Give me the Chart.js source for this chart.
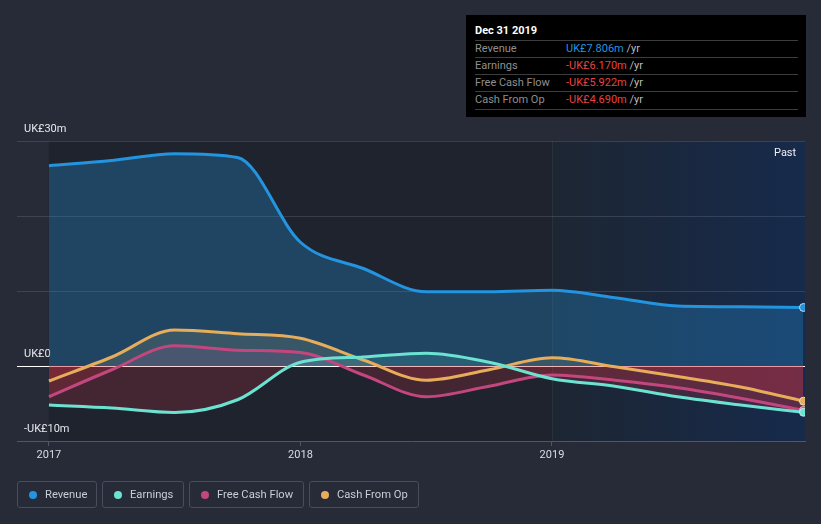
<!DOCTYPE html>
<html>
<head>
<meta charset="utf-8">
<script src="https://cdn.jsdelivr.net/npm/chart.js@4"></script>
<style>
  html, body { margin: 0; padding: 0; }
  body { width: 821px; height: 524px; background: #262b37; font-family: Roboto, "Noto Sans", sans-serif; overflow: hidden; position: relative; }
  #wrap { position: absolute; left: 0; top: 0; width: 821px; height: 524px; }
  .tip { position: absolute; left: 466px; top: 15px; width: 340px; height: 102px; background: #000; box-sizing: border-box; }
  .tip .title { position: absolute; left: 9px; top: 16px; color: #fff; font-weight: bold; font-size: 11px; line-height: 14px; transform: translateY(-50%); }
  .tip .row { position: absolute; left: 9px; right: 8px; height: 17px; border-top: 1px solid #3d3d3d; font-size: 11px; line-height: 16px; color: #8f8f8f; }
  .tip .row.last { border-bottom: 1px solid #3d3d3d; }
  .tip .row .val { position: absolute; left: 91px; top: 0; }
  .tip .row .unit { color: #bdbdbd; }
  .past { position: absolute; left: 774px; top: 146px; color: #eef0f4; font-size: 11px; line-height: 14px; }
  .legend { position: absolute; left: 17px; top: 481px; display: flex; gap: 5px; }
  .legend .item { box-sizing: border-box; height: 27px; border: 1px solid #474d5b; border-radius: 3px; display: flex; align-items: center; padding-left: 11px; color: #c9cdd5; font-size: 11.2px; }
  .legend .dot { width: 8px; height: 8px; border-radius: 50%; margin-right: 8px; }
</style>
</head>
<body>
<div id="wrap"><canvas id="chart" width="821" height="524"></canvas></div>
<div class="tip" id="tip"></div>
<div class="past">Past</div>
<div class="legend" id="legend"></div>

<script>
// DATA (values in UK£ millions, x in years)
const dates = [2017, 2017.25, 2017.5, 2017.75, 2018, 2018.25, 2018.5, 2018.75, 2019, 2019.25, 2019.5, 2019.75, 2020];
const revenue = [26.7, 27.4, 28.3, 27.8, 16.5, 13.0, 9.9, 9.9, 10.1, 9.1, 8.0, 7.9, 7.806];
const earnings = [-5.2, -5.6, -6.2, -4.5, 0.5, 1.2, 1.7, 0.5, -1.7, -2.7, -4.1, -5.2, -6.170];
const freeCashFlow = [-4.1, -0.5, 2.7, 2.1, 1.8, -1.2, -4.1, -2.7, -1.2, -1.9, -2.9, -4.3, -5.922];
const cashFromOp = [-2.0, 1.2, 4.8, 4.3, 3.7, 0.8, -1.9, -0.5, 1.1, -0.1, -1.4, -2.8, -4.690];

const seriesNames = ['Revenue', 'Earnings', 'Free Cash Flow', 'Cash From Op'];
const seriesColors = ['#2394df', '#6ce3d2', '#c4467f', '#e7ad5b'];
const xTickValues = [2017, 2018, 2019];
const yTickValues = [30, 0, -10];
const yTickLabels = ['UK£30m', 'UK£0', '-UK£10m'];
const tipTitle = 'Dec 31 2019';
const pastStart = 2019;

const allSeries = [revenue, earnings, freeCashFlow, cashFromOp];
const aboveAlpha = [0.3, 0.18, 0.16, 0.18];

function hexA(hex, a) {
  const n = parseInt(hex.slice(1), 16);
  return 'rgba(' + (n >> 16) + ',' + ((n >> 8) & 255) + ',' + (n & 255) + ',' + a + ')';
}

function fmt(v) {
  return (v < 0 ? '-' : '') + 'UK£' + Math.abs(v).toFixed(3) + 'm';
}

// TOOLTIP BOX
const tip = document.getElementById('tip');
tip.innerHTML = '<div class="title">' + tipTitle + '</div>';
seriesNames.forEach((name, i) => {
  const v = allSeries[i][allSeries[i].length - 1];
  const row = document.createElement('div');
  row.className = 'row' + (i === seriesNames.length - 1 ? ' last' : '');
  row.style.top = (25 + i * 17) + 'px';
  const col = v < 0 ? '#e8423f' : seriesColors[0];
  row.innerHTML = name + '<span class="val"><span style="color:' + col + '">' + fmt(v) + '</span> <span class="unit">/yr</span></span>';
  tip.appendChild(row);
});

// LEGEND
const legendWidths = [80, 82, 115, 110];
const legend = document.getElementById('legend');
seriesNames.forEach((name, i) => {
  const item = document.createElement('div');
  item.className = 'item';
  item.style.width = legendWidths[i] + 'px';
  item.innerHTML = '<span class="dot" style="background:' + seriesColors[i] + '"></span>' + name;
  legend.appendChild(item);
});

// BACKGROUND BANDS
const bands = {
  id: 'bands',
  beforeDraw(chart) {
    const { ctx, chartArea, scales } = chart;
    const x0 = scales.x.getPixelForValue(dates[0]);
    const x1 = scales.x.getPixelForValue(pastStart);
    ctx.save();
    ctx.fillStyle = '#1f232d';
    ctx.fillRect(x0, chartArea.top, x1 - x0, chartArea.bottom - chartArea.top);
    const g = ctx.createLinearGradient(x1, 0, chartArea.right, 0);
    g.addColorStop(0, '#1d2633');
    g.addColorStop(1, '#162a4b');
    ctx.fillStyle = g;
    ctx.fillRect(x1, chartArea.top, chartArea.right - x1, chartArea.bottom - chartArea.top);
    ctx.strokeStyle = 'rgba(255,255,255,0.05)';
    ctx.lineWidth = 1;
    ctx.beginPath();
    ctx.moveTo(Math.round(x1) + 0.5, chartArea.top);
    ctx.lineTo(Math.round(x1) + 0.5, chartArea.bottom);
    ctx.stroke();
    ctx.restore();
  }
};

const ctx = document.getElementById('chart');

new Chart(ctx, {
  type: 'line',
  data: {
    datasets: allSeries.map((vals, i) => ({
      label: seriesNames[i],
      data: vals.map((v, j) => ({ x: dates[j], y: v })),
      borderColor: seriesColors[i],
      borderWidth: 3,
      cubicInterpolationMode: 'monotone',
      fill: { target: 'origin', above: hexA(seriesColors[i], aboveAlpha[i]), below: 'rgba(214,52,64,0.2)' },
      pointRadius: c => c.dataIndex === vals.length - 1 ? 4 : 0,
      pointBackgroundColor: seriesColors[i],
      pointBorderColor: 'rgba(235,235,235,0.8)',
      pointBorderWidth: 1,
      clip: 0
    }))
  },
  options: {
    responsive: false,
    animation: false,
    layout: { padding: { left: 17, right: 16, top: 141, bottom: 0 } },
    plugins: {
      legend: { display: false },
      tooltip: { enabled: false },
      filler: { drawTime: 'beforeDatasetsDraw' }
    },
    scales: {
      x: {
        type: 'linear',
        min: 2016.873,
        max: 2020.006,
        afterBuildTicks: s => { s.ticks = xTickValues.map(v => ({ value: v })); },
        afterFit: s => { s.height = 83; },
        ticks: { color: '#dadde3', font: { family: 'Roboto', size: 11 }, padding: 3, maxRotation: 0, callback: v => String(v) },
        grid: { drawOnChartArea: false, drawTicks: true, tickLength: 5, color: '#50566a' },
        border: { display: true, color: '#50566a', width: 1 }
      },
      y: {
        min: -10,
        max: 30,
        afterFit: s => { s.width = 0; },
        ticks: {
          stepSize: 10,
          mirror: true,
          padding: 7,
          labelOffset: -12,
          color: '#e6e8ec',
          font: { family: 'Roboto', size: 11 },
          callback: v => { const k = yTickValues.indexOf(v); return k < 0 ? '' : yTickLabels[k]; }
        },
        grid: {
          drawTicks: false,
          color: c => c.tick.value === 0 ? '#ffffff' : (c.tick.value === -10 ? 'rgba(0,0,0,0)' : 'rgba(255,255,255,0.12)')
        },
        border: { display: false }
      }
    }
  },
  plugins: [bands]
});
</script>
</body>
</html>
